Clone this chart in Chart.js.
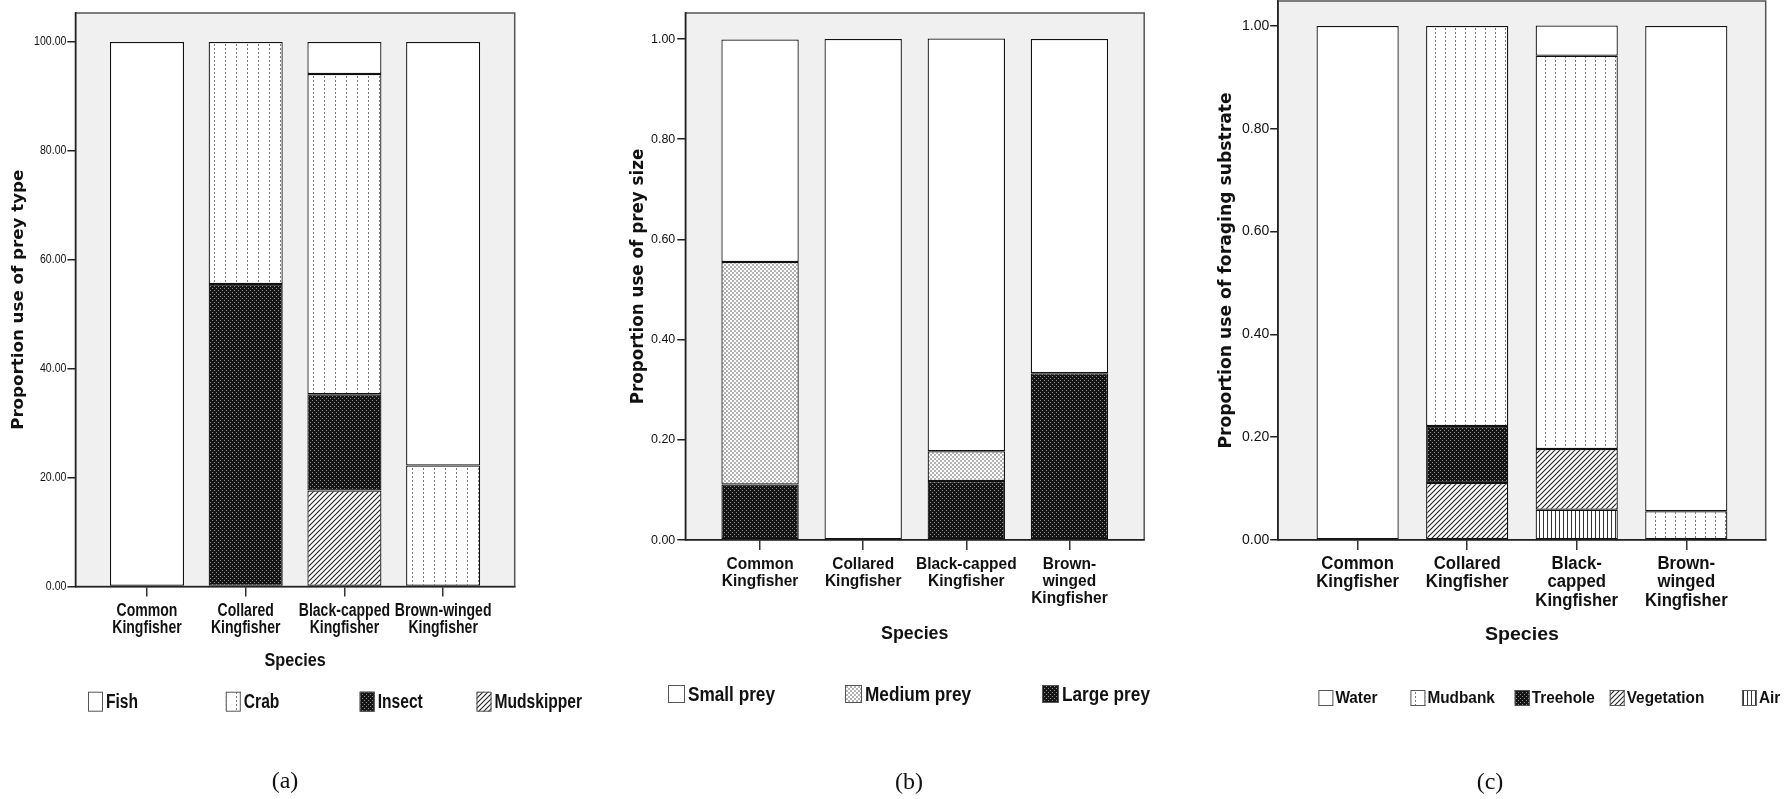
<!DOCTYPE html>
<html>
<head>
<meta charset="utf-8">
<script src="https://cdn.jsdelivr.net/npm/chart.js@4.4.1/dist/chart.umd.min.js"></script>
<style>
  body { margin: 0; background: #fff; width: 1784px; height: 799px; position: relative; overflow: hidden; }
  .panel { position: absolute; top: 0; height: 799px; }
  .cap { position: absolute; font: 24px "Liberation Serif", "Times New Roman", serif; color: #111; transform: translate(-50%, -50%); }
</style>
</head>
<body>
<div class="panel" style="left:0;width:600px"><canvas id="chartA"></canvas></div>
<div class="panel" style="left:600px;width:590px"><canvas id="chartB"></canvas></div>
<div class="panel" style="left:1190px;width:594px"><canvas id="chartC"></canvas></div>
<div class="cap" style="left:285px;top:780px">(a)</div>
<div class="cap" style="left:909px;top:781px">(b)</div>
<div class="cap" style="left:1490px;top:781px">(c)</div>
<script>
const SANS = '"Liberation Sans", Arial, sans-serif';

// (a) prey type, percent
const typeSpecies = [['Common', 'Kingfisher'], ['Collared', 'Kingfisher'], ['Black-capped', 'Kingfisher'], ['Brown-winged', 'Kingfisher']];
const typeNames = ['Fish', 'Crab', 'Insect', 'Mudskipper'];
const fish = [100, 0, 5.88, 77.78];
const crab = [0, 44.44, 58.82, 22.22];
const insect = [0, 55.56, 17.65, 0];
const mudskipper = [0, 0, 17.65, 0];
const typeTicks = [0, 20, 40, 60, 80, 100];

// (b) prey size, proportion
const sizeSpecies = [['Common', 'Kingfisher'], ['Collared', 'Kingfisher'], ['Black-capped', 'Kingfisher'], ['Brown-', 'winged', 'Kingfisher']];
const sizeNames = ['Small prey', 'Medium prey', 'Large prey'];
const smallPrey = [0.444, 1.0, 0.824, 0.667];
const mediumPrey = [0.444, 0, 0.059, 0];
const largePrey = [0.111, 0, 0.118, 0.333];
const propTicks = [0, 0.2, 0.4, 0.6, 0.8, 1.0];

// (c) foraging substrate, proportion
const subSpecies = [['Common', 'Kingfisher'], ['Collared', 'Kingfisher'], ['Black-', 'capped', 'Kingfisher'], ['Brown-', 'winged', 'Kingfisher']];
const subNames = ['Water', 'Mudbank', 'Treehole', 'Vegetation', 'Air'];
const water = [1.0, 0, 0.059, 0.944];
const mudbank = [0, 0.778, 0.765, 0.056];
const treehole = [0, 0.111, 0, 0];
const vegetation = [0, 0.111, 0.118, 0];
const air = [0, 0, 0.059, 0];

// fill patterns, SPSS style
function tile(w, h, draw) {
  const c = document.createElement('canvas');
  c.width = w; c.height = h;
  const g = c.getContext('2d');
  g.fillStyle = '#fff';
  g.fillRect(0, 0, w, h);
  draw(g, w, h);
  return g.createPattern(c, 'repeat');
}
const plain = '#ffffff';
const dots = s => tile(s, 4, g => { g.fillStyle = '#7a7a7a'; g.fillRect(Math.floor(s / 2), 0, 1, 2); });
const dense = () => tile(4, 4, g => {
  g.fillStyle = '#161616'; g.fillRect(0, 0, 4, 4);
  g.fillStyle = '#8c8c8c'; g.fillRect(0, 0, 1, 1); g.fillRect(2, 2, 1, 1);
});
const light = () => tile(4, 4, g => {
  g.fillStyle = '#b4b4b4';
  g.fillRect(0, 0, 2, 2); g.fillRect(2, 2, 2, 2);
});
const hatch = () => tile(5, 5, (g, s) => {
  g.strokeStyle = '#222'; g.lineWidth = 1.1;
  g.beginPath();
  g.moveTo(-1, s + 1); g.lineTo(s + 1, -1);
  g.moveTo(-1, 1); g.lineTo(1, -1);
  g.moveTo(s - 1, s + 1); g.lineTo(s + 1, s - 1);
  g.stroke();
});
const vlines = () => tile(4, 1, g => { g.fillStyle = '#333'; g.fillRect(1, 0, 1, 1); });

// narrow SPSS lettering: squeeze the text horizontally
function squeeze(g, text, x, y, sx, align) {
  g.save();
  g.translate(x, y);
  g.scale(sx, 1);
  g.textAlign = align;
  g.fillText(text, 0, 0);
  g.restore();
}

const frame = {
  id: 'frame',
  beforeDraw(c) {
    const a = c.chartArea, g = c.ctx;
    g.save();
    g.fillStyle = '#f0f0f0';
    g.fillRect(a.left, a.top, a.width, a.height);
    g.strokeStyle = '#555';
    g.lineWidth = 1.5;
    g.strokeRect(a.left, a.top, a.width, a.height);
    g.restore();
  }
};

const texts = {
  id: 'texts',
  afterDraw(c, args, o) {
    const g = c.ctx, xs = c.scales.x, ys = c.scales.y, a = c.chartArea;
    g.save();
    g.fillStyle = '#111';
    g.textBaseline = 'middle';

    g.font = `bold ${o.cat.size}px ${SANS}`;
    o.species.forEach((lines, i) => {
      const x = xs.getPixelForValue(i);
      lines.forEach((s, j) => squeeze(g, s, x, o.cat.ys[j], o.cat.sx, 'center'));
    });

    g.font = `${o.tick.size}px ${SANS}`;
    ys.ticks.forEach(t => squeeze(g, t.value.toFixed(2), a.left - o.tick.gap, ys.getPixelForValue(t.value), o.tick.sx, 'right'));

    g.font = `bold ${o.title.size}px ${SANS}`;
    squeeze(g, 'Species', (a.left + a.right) / 2, o.title.y, o.title.sx, 'center');

    const k = o.key;
    g.font = `bold ${k.size}px ${SANS}`;
    c.data.datasets.slice().reverse().forEach((ds, i) => {
      const x = k.xs[i], top = k.y - k.h / 2;
      g.fillStyle = ds.backgroundColor;
      g.fillRect(x, top, k.w, k.h);
      g.strokeStyle = '#555';
      g.lineWidth = 1;
      g.strokeRect(x + 0.5, top + 0.5, k.w - 1, k.h - 1);
      g.fillStyle = '#111';
      squeeze(g, ds.label, x + k.w + k.gap, k.y + 1, k.sx, 'left');
    });
    g.restore();
  }
};

function makeChart(id, p) {
  // legend order is top of the stack first, so build bottom-up
  const datasets = p.names.map((n, k) => ({
    label: n,
    data: p.values[k].map((v, i) => ({ x: i, y: v })),
    backgroundColor: p.fills[k],
    borderColor: '#111',
    borderWidth: 1.25,
    borderSkipped: false,
    barPercentage: 0.75,
    categoryPercentage: 1
  })).reverse();

  return new Chart(document.getElementById(id), {
    type: 'bar',
    data: { datasets },
    plugins: [frame, texts],
    options: {
      responsive: true,
      maintainAspectRatio: false,
      animation: false,
      layout: { padding: p.pad },
      plugins: {
        legend: { display: false },
        tooltip: { enabled: false },
        texts: p.texts
      },
      scales: {
        x: {
          type: 'linear',
          offset: false,
          min: -0.725,
          max: p.texts.species.length - 1 + 0.725,
          stacked: true,
          afterBuildTicks: s => { s.ticks = p.texts.species.map((_, i) => ({ value: i })); },
          afterFit: s => { s.height = 20; },
          ticks: { display: false },
          grid: { drawOnChartArea: false, offset: false, tickLength: 10, color: '#333', lineWidth: 1.5 },
          border: { color: '#222', width: 1.5 }
        },
        y: {
          min: 0,
          max: p.yMax,
          stacked: true,
          afterBuildTicks: s => { s.ticks = p.ticks.map(v => ({ value: v })); },
          afterFit: s => { s.width = p.yW; },
          ticks: { display: false },
          grid: { drawOnChartArea: false, tickLength: 8, color: '#222', lineWidth: 1.5 },
          border: { color: '#222', width: 1.5 },
          title: {
            display: true,
            text: p.yTitle,
            font: { family: '"DejaVu Sans", sans-serif', size: p.yTitleSize, weight: 'bold' },
            color: '#111',
            padding: { top: p.yTitlePad, bottom: 0 }
          }
        }
      }
    }
  });
}

makeChart('chartA', {
  names: typeNames,
  values: [fish, crab, insect, mudskipper],
  fills: [plain, dots(11), dense(), hatch()],
  ticks: typeTicks,
  yMax: 105.33,
  yTitle: 'Proportion use of prey type',
  yTitleSize: 16.7,
  yTitlePad: 9,
  yW: 75.4,
  pad: { left: 0, top: 13, right: 85.3, bottom: 192.5 },
  texts: {
    species: typeSpecies,
    cat: { size: 18, sx: 0.78, ys: [611, 628.5] },
    tick: { size: 12, sx: 0.88, gap: 9 },
    title: { size: 18, sx: 0.9, y: 661.5 },
    key: { xs: [88, 225.8, 359.7, 476.5], y: 701.7, w: 15, h: 20, size: 20, sx: 0.78, gap: 3 }
  }
});

makeChart('chartB', {
  names: sizeNames,
  values: [smallPrey, mediumPrey, largePrey],
  fills: [plain, light(), dense()],
  ticks: propTicks,
  yMax: 1.0519,
  yTitle: 'Proportion use of prey size',
  yTitleSize: 16.75,
  yTitlePad: 29,
  yW: 85.3,
  pad: { left: 0, top: 13, right: 45.8, bottom: 239 },
  texts: {
    species: sizeSpecies,
    cat: { size: 17, sx: 0.91, ys: [564, 581, 598] },
    tick: { size: 13, sx: 0.96, gap: 10 },
    title: { size: 18, sx: 0.99, y: 633.7 },
    key: { xs: [68, 245, 442], y: 694, w: 17, h: 18, size: 20, sx: 0.86, gap: 3 }
  }
});

makeChart('chartC', {
  names: subNames,
  values: [water, mudbank, treehole, vegetation, air],
  fills: [plain, dots(10), dense(), hatch(), vlines()],
  ticks: propTicks,
  yMax: 1.0486,
  yTitle: 'Proportion use of foraging substrate',
  yTitleSize: 17.2,
  yTitlePad: 26.7,
  yW: 88.2,
  pad: { left: 0, top: 1, right: 18.3, bottom: 239 },
  texts: {
    species: subSpecies,
    cat: { size: 18, sx: 0.93, ys: [564, 582.5, 601] },
    tick: { size: 14, sx: 1, gap: 9 },
    title: { size: 19, sx: 1.03, y: 635 },
    key: { xs: [128.4, 220.4, 324.7, 419.7, 551.9], y: 698, w: 15, h: 16, size: 16, sx: 0.96, gap: 2 }
  }
});
</script>
</body>
</html>
